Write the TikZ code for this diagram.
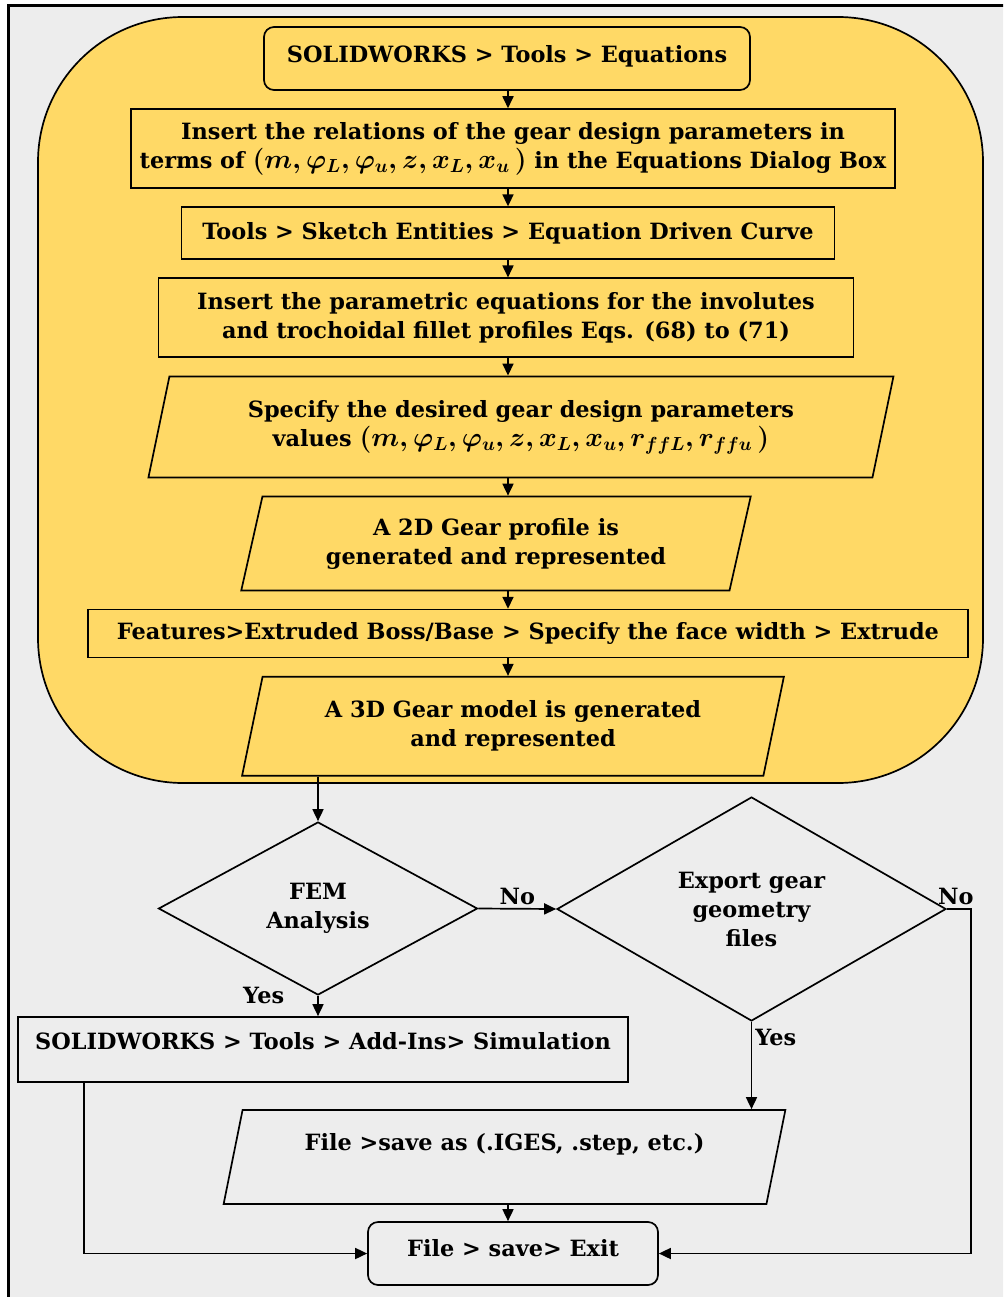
\RequirePackage{fix-cm}
\documentclass[tikz,border=0pt]{standalone}
\usepackage{fontspec}
\setmainfont{DejaVu Serif}
\usetikzlibrary{arrows.meta,positioning,calc,shapes.geometric}
\definecolor{panelyellow}{HTML}{FFD966}
\definecolor{pagegrey}{HTML}{EDEDED}
\newcommand{\params}[1]{{\fontsize{27}{29}\selectfont\boldmath$#1$}}

\begin{document}
\begin{tikzpicture}[x=1pt, y=-1pt,
  font=\bfseries\fontsize{22.4}{29}\selectfont,
  node distance=17.4pt,
  box/.style={draw, line width=1.7pt, align=center, inner sep=4pt, fill=panelyellow},
  rbox/.style={box, rounded corners=10pt},
  para/.style={draw, line width=1.7pt, align=center, inner sep=4pt, fill=panelyellow,
    trapezium, trapezium left angle=75, trapezium right angle=105, trapezium stretches=true},
  dec/.style={draw, line width=1.7pt, diamond, align=center, inner sep=0pt},
  arr/.style={-{Triangle[length=12pt,width=11pt]}, line width=1.7pt},
  lbl/.style={inner sep=3pt}
]
\useasboundingbox (0,0) rectangle (1003,1297);
\fill[white] (0,0) rectangle (1003,1297);
\begin{scope}
  \clip (0,0) rectangle (1003,1297);
  \draw[line width=3pt, fill=pagegrey] (8,6) rectangle (1020,1320);
\end{scope}

% SOLIDWORKS part
\draw[line width=1.7pt, fill=panelyellow, rounded corners=145pt] (38,17) rectangle (983,783);
\coordinate (col) at (508,0);

\node[rbox, minimum width=486pt, minimum height=63pt, text depth=9pt] (b1) at (507,58.5) {SOLIDWORKS > Tools > Equations};
\node[box, below=of b1, xshift=6pt, minimum width=764pt, minimum height=79pt] (b2)
  {Insert the relations of the gear design parameters in\\
   terms of \params{(m, \varphi_L, \varphi_u, z, x_L, x_u\,)} in the Equations Dialog Box};
\node[box, below=of b2, xshift=-5pt, minimum width=653pt, minimum height=52pt] (b3)
  {Tools > Sketch Entities > Equation Driven Curve};
\node[box, below=of b3, xshift=-2pt, minimum width=695pt, minimum height=79pt] (b4)
  {Insert the parametric equations for the involutes\\and trochoidal fillet profiles Eqs. (68) to (71)};
\node[para, below=of b4, xshift=15pt, minimum width=749pt, minimum height=101pt] (p5)
  {Specify the desired gear design parameters\\
   values \params{(m, \varphi_L, \varphi_u, z, x_L, x_u, r_{ffL}, r_{ffu}\,)}};
\node[para, below=of p5, xshift=-25pt, minimum width=511pt, minimum height=94pt] (p6)
  {A 2D Gear profile is\\generated and represented};
\node[box, below=of p6, xshift=32pt, minimum width=880pt, minimum height=48pt] (b7)
  {Features>Extruded Boss/Base > Specify the face width > Extrude};
\node[para, below=of b7, xshift=-15pt, minimum width=544pt, minimum height=99pt] (p8)
  {A 3D Gear model is generated\\and represented};

\draw[arr] (b1.south -| col) -- (b2.north -| col);
\draw[arr] (b2.south -| col) -- (b3.north -| col);
\draw[arr] (b3.south -| col) -- (b4.north -| col);
\draw[arr] (b4.south -| col) -- (p5.north -| col);
\draw[arr] (p5.south -| col) -- (p6.north -| col);
\draw[arr] (p6.south -| col) -- (b7.north -| col);
\draw[arr] (b7.south -| col) -- (p8.north -| col);

% decisions and export
\node[dec, minimum width=319pt, minimum height=173pt] (fem) at (318,908.5) {FEM\\Analysis};
\node[dec, minimum width=389pt, minimum height=224pt] (exp) at (751.5,909) {Export gear\\geometry\\files};
\node[box, fill=none, minimum width=610pt, minimum height=65pt, text height=18pt, text depth=18pt] (sim)
  at (323,1049.5) {SOLIDWORKS > Tools > Add-Ins> Simulation};
\node[para, fill=none, minimum width=565pt, minimum height=94pt, text depth=30pt] (save)
  at (504.5,1157) {File >save as (.IGES, .step, etc.)};
\node[rbox, fill=none, minimum width=290pt, minimum height=63pt, text depth=12pt] (exit)
  at (513,1253.5) {File > save> Exit};

\draw[arr] (p8.south -| fem.north) -- (fem.north);
\draw[arr] (fem.east) -- node[lbl, above] {No} (exp.west);
\draw[arr] (fem.south) node[lbl, left=30pt] {Yes} -- (fem.south |- sim.north);
\draw[arr] (exp.south) -- node[lbl, right, pos=0.18] {Yes} (exp.south |- save.north);
\draw[arr] (exp.east) node[lbl, above, xshift=9pt] {No} -- ++(24,0) |- (exit.east);
\draw[arr] ($(sim.south west)+(67,0)$) |- (exit.west);
\draw[arr] (save.south -| col) -- (exit.north -| col);

\end{tikzpicture}
\end{document}
